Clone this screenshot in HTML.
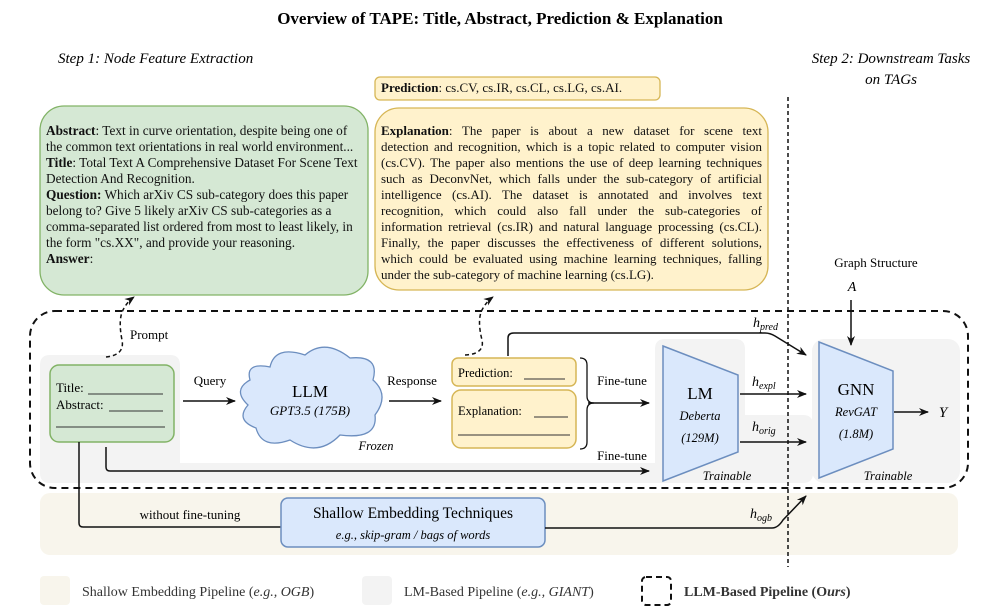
<!DOCTYPE html>
<html><head><meta charset="utf-8"><style>
body{margin:0;width:1000px;height:616px;background:#fff;position:relative;overflow:hidden;font-family:"Liberation Serif",serif;color:#111}
.t{position:absolute;font-size:13.3px;line-height:16px;white-space:nowrap}
.j div{text-align:justify;text-align-last:justify;white-space:normal}
.j div.l{text-align-last:left}
</style></head><body>
<svg width="1000" height="616" style="position:absolute;left:0;top:0" font-family="Liberation Serif, serif">
<defs><marker id="a" markerWidth="10" markerHeight="10" refX="9" refY="5" orient="auto" markerUnits="userSpaceOnUse"><path d="M0,1 L10,5 L0,9 L3,5z" fill="#111"/></marker></defs>
<text x="500" y="24" text-anchor="middle" font-size="17" font-weight="bold">Overview of TAPE: Title, Abstract, Prediction &amp; Explanation</text>
<text x="58" y="63" font-size="15" font-style="italic">Step 1: Node Feature Extraction</text>
<text x="891" y="63" font-size="15" font-style="italic" text-anchor="middle">Step 2: Downstream Tasks</text>
<text x="891" y="84" font-size="15" font-style="italic" text-anchor="middle">on TAGs</text>
<rect x="40" y="493" width="918" height="62" rx="10" fill="#f8f5ec"/>
<path d="M50,355 H170 Q180,355 180,365 V463 H655 V349 Q655,339 665,339 H735 Q745,339 745,349 V415 H803 Q813,415 813,425 V473 Q813,483 803,483 H50 Q40,483 40,473 V365 Q40,355 50,355z" fill="#f3f3f3"/>
<rect x="812" y="339" width="148" height="144" rx="12" fill="#f3f3f3"/>
<rect x="30" y="311" width="938" height="177" rx="25" fill="none" stroke="#111" stroke-width="2" stroke-dasharray="7,5"/>
<line x1="788" y1="97" x2="788" y2="567" stroke="#111" stroke-width="1.5" stroke-dasharray="4,3"/>
<rect x="40" y="106" width="328" height="189" rx="24" fill="#d5e8d4" stroke="#82b366" stroke-width="1.3"/>
<rect x="375" y="77" width="285" height="23" rx="5" fill="#fff2cc" stroke="#d6b656" stroke-width="1.3"/>
<rect x="375" y="108" width="393" height="182" rx="24" fill="#fff2cc" stroke="#d6b656" stroke-width="1.3"/>
<path d="M106,357 Q125,355 122,340 Q118,320 123,310 Q127,302 134,297" fill="none" stroke="#111" stroke-width="1.5" stroke-dasharray="4,3" marker-end="url(#a)"/>
<path d="M465,355 Q485,354 482,340 Q477,320 482,310 Q486,302 493,297" fill="none" stroke="#111" stroke-width="1.5" stroke-dasharray="4,3" marker-end="url(#a)"/>
<text x="130" y="339" font-size="13">Prompt</text>
<rect x="50" y="365" width="124" height="77" rx="9" fill="#d5e8d4" stroke="#82b366" stroke-width="1.5"/>
<text x="56" y="392" font-size="13">Title: </text><line x1="88" y1="394" x2="163" y2="394" stroke="#333"/>
<text x="56" y="409" font-size="13">Abstract: </text><line x1="109" y1="411" x2="163" y2="411" stroke="#333"/>
<line x1="56" y1="427" x2="165" y2="427" stroke="#333"/>
<text x="210" y="385" font-size="13" text-anchor="middle">Query</text>
<line x1="183" y1="401" x2="235" y2="401" stroke="#111" stroke-width="1.5" marker-end="url(#a)"/>
<path d="M270,367 Q275,345 305,355 Q325,338 350,358 Q380,355 373,380 Q390,395 375,415 Q378,440 340,435 Q318,458 290,440 Q262,450 256,428 Q235,420 248,405 Q232,390 250,380 Q245,362 270,367z" fill="#dae8fc" stroke="#6c8ebf" stroke-width="1.3"/>
<text x="310" y="397" font-size="17" text-anchor="middle">LLM</text>
<text x="310" y="415" font-size="13" font-style="italic" text-anchor="middle">GPT3.5 (175B)</text>
<text x="376" y="450" font-size="12.5" font-style="italic" text-anchor="middle">Frozen</text>
<text x="412" y="385" font-size="13" text-anchor="middle">Response</text>
<line x1="389" y1="401" x2="441" y2="401" stroke="#111" stroke-width="1.5" marker-end="url(#a)"/>
<rect x="452" y="358" width="124" height="28" rx="6" fill="#fff2cc" stroke="#d6b656" stroke-width="1.5"/>
<text x="458" y="377" font-size="12.5">Prediction: </text><line x1="524" y1="379" x2="565" y2="379" stroke="#333"/>
<rect x="452" y="390" width="124" height="58" rx="9" fill="#fff2cc" stroke="#d6b656" stroke-width="1.5"/>
<text x="458" y="415" font-size="12.5">Explanation: </text><line x1="534" y1="417" x2="568" y2="417" stroke="#333"/>
<line x1="458" y1="435" x2="570" y2="435" stroke="#333"/>
<path d="M580,358 Q587,358 587,365 V396 Q587,403 594,403 Q587,403 587,410 V442 Q587,449 580,449" fill="none" stroke="#111" stroke-width="1.3"/>
<line x1="588" y1="403" x2="649" y2="403" stroke="#111" stroke-width="1.5" marker-end="url(#a)"/>
<text x="622" y="385" font-size="13" text-anchor="middle">Fine-tune</text>
<text x="622" y="460" font-size="13" text-anchor="middle">Fine-tune</text>
<path d="M106,447 V467 Q106,471 110,471 H649" fill="none" stroke="#111" stroke-width="1.5" marker-end="url(#a)"/>
<path d="M79,442 V523 Q79,527 83,527 H281" fill="none" stroke="#111" stroke-width="1.5"/>
<text x="190" y="519" font-size="13" text-anchor="middle">without fine-tuning</text>
<rect x="281" y="498" width="264" height="49" rx="7" fill="#dae8fc" stroke="#6c8ebf" stroke-width="1.5"/>
<text x="413" y="518" font-size="15.5" text-anchor="middle">Shallow Embedding Techniques</text>
<text x="413" y="539" font-size="12.5" font-style="italic" text-anchor="middle">e.g., skip-gram / bags of words</text>
<path d="M545,528 H772 Q778,528 783,520 L806,496" fill="none" stroke="#111" stroke-width="1.5" marker-end="url(#a)"/>
<text x="750" y="518" font-size="14" font-style="italic">h<tspan font-size="10" dy="3">ogb</tspan></text>
<path d="M663,346 L738,375 V452 L663,481z" fill="#dae8fc" stroke="#6c8ebf" stroke-width="1.5"/>
<text x="700" y="399" font-size="17" text-anchor="middle">LM</text>
<text x="700" y="420" font-size="12.5" font-style="italic" text-anchor="middle">Deberta</text>
<text x="700" y="442" font-size="12.5" font-style="italic" text-anchor="middle">(129M)</text>
<text x="727" y="480" font-size="12.5" font-style="italic" text-anchor="middle">Trainable</text>
<path d="M508,356 V338 Q508,333 514,333 H765 Q770,333 775,336 L806,355" fill="none" stroke="#111" stroke-width="1.5" marker-end="url(#a)"/>
<text x="753" y="327" font-size="14" font-style="italic">h<tspan font-size="10" dy="3">pred</tspan></text>
<line x1="740" y1="394" x2="806" y2="394" stroke="#111" stroke-width="1.5" marker-end="url(#a)"/>
<text x="752" y="386" font-size="14" font-style="italic">h<tspan font-size="10" dy="3">expl</tspan></text>
<line x1="740" y1="442" x2="806" y2="442" stroke="#111" stroke-width="1.5" marker-end="url(#a)"/>
<text x="752" y="431" font-size="14" font-style="italic">h<tspan font-size="10" dy="3">orig</tspan></text>
<path d="M819,342 L893,371 V449 L819,478z" fill="#dae8fc" stroke="#6c8ebf" stroke-width="1.5"/>
<text x="856" y="395" font-size="17" text-anchor="middle">GNN</text>
<text x="856" y="416" font-size="12.5" font-style="italic" text-anchor="middle">RevGAT</text>
<text x="856" y="438" font-size="12.5" font-style="italic" text-anchor="middle">(1.8M)</text>
<text x="888" y="480" font-size="12.5" font-style="italic" text-anchor="middle">Trainable</text>
<line x1="894" y1="412" x2="928" y2="412" stroke="#111" stroke-width="1.5" marker-end="url(#a)"/>
<text x="943" y="417" font-size="15" font-style="italic" text-anchor="middle">Y</text>
<text x="876" y="267" font-size="13" text-anchor="middle">Graph Structure</text>
<text x="852" y="291" font-size="14" font-style="italic" text-anchor="middle">A</text>
<line x1="851" y1="300" x2="851" y2="345" stroke="#111" stroke-width="1.5" marker-end="url(#a)"/>
<rect x="40" y="576" width="30" height="29" rx="4" fill="#f8f5ec"/>
<text x="82" y="596" font-size="14" fill="#333">Shallow Embedding Pipeline (<tspan font-style="italic">e.g., OGB</tspan>)</text>
<rect x="362" y="576" width="30" height="29" rx="4" fill="#f3f3f3"/>
<text x="404" y="596" font-size="14" fill="#333">LM-Based Pipeline (<tspan font-style="italic">e.g., GIANT</tspan>)</text>
<rect x="642" y="577" width="29" height="28" rx="4" fill="none" stroke="#111" stroke-width="2" stroke-dasharray="6,4"/>
<text x="684" y="596" font-size="14" font-weight="bold" fill="#333">LLM-Based Pipeline (O<tspan font-style="italic">urs</tspan>)</text>
</svg>
<div class="t" style="left:381px;top:80px;font-size:13px"><b>Prediction</b>: cs.CV, cs.IR, cs.CL, cs.LG, cs.AI.</div>
<div class="t" style="left:46px;top:123px">
<div><b>Abstract</b>: Text in curve orientation, despite being one of</div>
<div>the common text orientations in real world environment...</div>
<div><b>Title</b>: Total Text A Comprehensive Dataset For Scene Text</div>
<div>Detection And Recognition.</div>
<div><b>Question:</b> Which arXiv CS sub-category does this paper</div>
<div>belong to? Give 5 likely arXiv CS sub-categories as a</div>
<div>comma-separated list ordered from most to least likely, in</div>
<div>the form "cs.XX", and provide your reasoning.</div>
<div><b>Answer</b>:</div>
</div>
<div class="t j" style="left:381px;top:123px;width:381px;font-size:13px">
<div><b>Explanation</b>: The paper is about a new dataset for scene text</div>
<div>detection and recognition, which is a topic related to computer vision</div>
<div>(cs.CV). The paper also mentions the use of deep learning techniques</div>
<div>such as DeconvNet, which falls under the sub-category of artificial</div>
<div>intelligence (cs.AI). The dataset is annotated and involves text</div>
<div>recognition, which could also fall under the sub-categories of</div>
<div>information retrieval (cs.IR) and natural language processing (cs.CL).</div>
<div>Finally, the paper discusses the effectiveness of different solutions,</div>
<div>which could be evaluated using machine learning techniques, falling</div>
<div class="l">under the sub-category of machine learning (cs.LG).</div>
</div>
</body></html>
